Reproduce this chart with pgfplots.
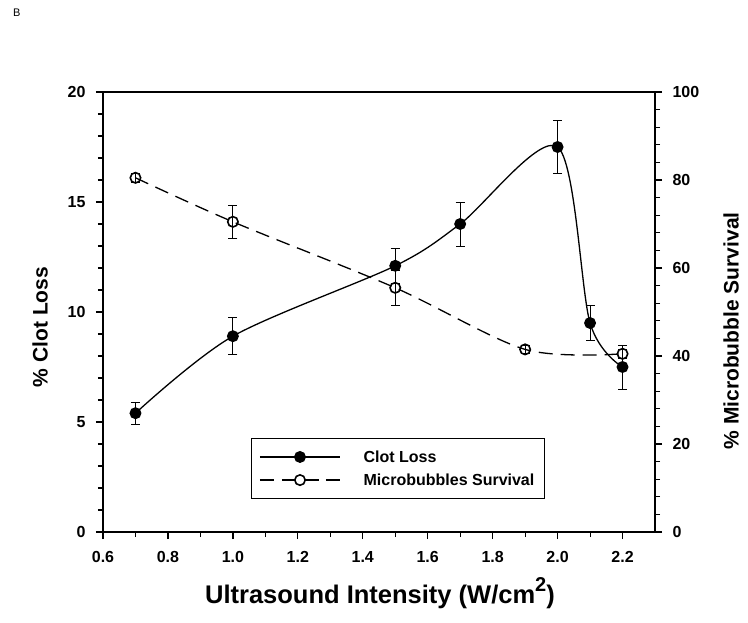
\documentclass[border=0pt]{standalone}
\usepackage{fontspec}
\setmainfont{Liberation Sans}
\usepackage{pgfplots}
\usepackage{pgfplotstable}
\pgfplotsset{compat=1.18}
\pgfplotstableread{
x y e
0.7 5.4 0.5
1.0 8.9 0.85
1.5 12.1 0.8
1.7 14.0 1.0
2.0 17.5 1.2
2.1 9.5 0.8
2.2 7.5 1.0
}\clotloss
\pgfplotstableread{
x y e
0.7 80.5 1.0
1.0 70.5 3.7
1.5 55.5 4.0
1.9 41.5 1.0
2.2 40.5 1.0
}\bubbles
\begin{document}
\begin{tikzpicture}[x=1pt,y=1pt]
\path[use as bounding box] (0,0) rectangle (748,622);
\node[anchor=north west, font=\fontsize{11}{11}\selectfont, inner sep=0pt] at (13,613) {B};
\pgfplotsset{
  common/.style={
    scale only axis, width=552pt, height=440pt,
    at={(103pt,90pt)}, anchor=south west,
    xmin=0.6, xmax=2.3,
    tick align=outside,
    axis line style={line width=1.5pt},
    major tick length=7pt, minor tick length=5pt,
    every major tick/.append style={line width=1.3pt, black},
    every minor tick/.append style={line width=1.1pt, black},
    /pgf/number format/assume math mode=true,
    tick label style={font=\bfseries\fontsize{16}{16}\selectfont},
    label style={font=\bfseries\fontsize{21}{22}\selectfont},
  },
  ebars/.style={error bars/.cd, y dir=both, y explicit,
    error bar style={line width=0.8pt, solid},
    error mark options={rotate=90, mark size=4.5pt, line width=0.8pt, solid}},
}
\begin{axis}[common,
  ymin=0, ymax=20,
  xtick={0.6,0.8,1.0,1.2,1.4,1.6,1.8,2.0,2.2},
  minor xtick={0.7,0.9,1.1,1.3,1.5,1.7,1.9,2.1},
  ytick={0,5,10,15,20},
  minor y tick num=4,
  xtick pos=bottom, ytick pos=left,
  xticklabel style={yshift=-9pt, /pgf/number format/.cd, fixed, fixed zerofill, precision=1},
  yticklabel style={xshift=-7pt},
  xlabel={Ultrasound Intensity (W/cm\raisebox{0.45em}{\fontsize{20}{20}\selectfont 2})},
  ylabel={\% Clot Loss},
  xlabel style={at={(axis description cs:0.5018,-0.1614)}, anchor=base, font=\bfseries\fontsize{25.5}{26}\selectfont},
  ylabel style={at={(axis description cs:-0.1141,0.466)}, anchor=center},
]
\addplot[black, line width=1.3pt, smooth, mark=*, mark size=5.3pt, ebars]
  table[x=x, y=y, y error=e] {\clotloss};
\end{axis}
\begin{axis}[common,
  ymin=0, ymax=100,
  axis x line=none, axis y line*=right,
  ytick={0,20,40,60,80,100},
  minor y tick num=4,
  yticklabel style={xshift=7pt},
  ylabel={\% Microbubble Survival},
  ylabel style={at={(axis description cs:1.1377,0.457)}, anchor=center},
  legend style={at={(rel axis cs:0.268,0.2136)}, anchor=north west,
    draw=black, line width=0.8pt, font=\bfseries\fontsize{16}{16}\selectfont,
    row sep=6pt, column sep=21pt, inner xsep=8pt, inner ysep=10pt},
  legend cell align=left,
  legend image code/.code={\draw[mark repeat=2,mark phase=2,#1] plot coordinates {(0pt,0pt) (40pt,0pt) (80pt,0pt)};},
]
\addlegendimage{black, line width=1.3pt, mark=*, mark size=5.3pt}
\addlegendentry{Clot Loss}
\addplot[black, line width=1.3pt, smooth, dash pattern=on 14pt off 8pt,
  mark=o, mark size=5.2pt, mark options={solid, fill=white, line width=1.6pt}, ebars]
  table[x=x, y=y, y error=e] {\bubbles};
\addlegendentry{Microbubbles Survival}
\end{axis}
\end{tikzpicture}
\end{document}
